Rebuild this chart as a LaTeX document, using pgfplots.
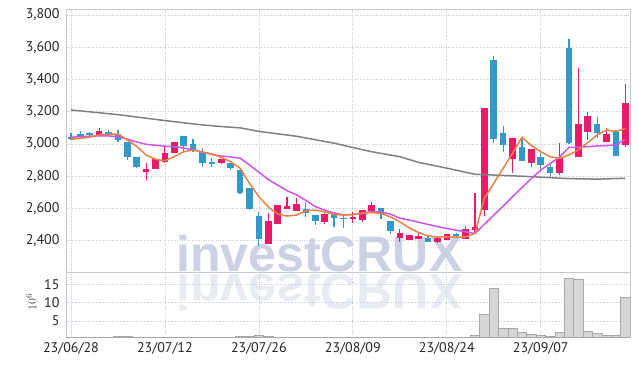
\documentclass[border=0pt]{standalone}
\usepackage{pgfplots}
\pgfplotsset{compat=1.18}
\usepackage{pgfplotstable}
\usepackage{fontspec}
\setmainfont{PT Sans}
\newfontfamily\wmfont{Liberation Sans}
\definecolor{cup}{RGB}{230,28,105}
\definecolor{cdn}{RGB}{51,152,202}
\definecolor{maone}{RGB}{238,128,70}
\definecolor{matwo}{RGB}{204,85,232}
\definecolor{mathree}{RGB}{128,128,128}
\definecolor{gridc}{RGB}{196,200,216}
\definecolor{framec}{RGB}{200,200,206}
\definecolor{wm}{RGB}{204,210,228}
\definecolor{wmr}{RGB}{233,235,243}
\definecolor{volf}{RGB}{214,214,214}
\definecolor{vole}{RGB}{168,168,168}

\pgfplotstableread{
i o h l c
0 3042 3065 3025 3038
1 3062 3078 3040 3052
2 3062 3075 3050 3060
3 3058 3097 3056 3080
4 3072 3087 3055 3068
5 3062 3085 3010 3022
6 3012 3015 2900 2922
7 2918 2920 2853 2855
8 2828 2880 2776 2842
9 2843 2905 2843 2905
10 2886 2983 2884 2945
11 2946 3012 2946 3010
12 3050 3052 2955 2990
13 3000 3030 2952 2955
14 2952 2972 2858 2880
15 2882 2912 2857 2880
16 2880 2908 2878 2906
17 2880 2882 2840 2850
18 2838 2840 2692 2697
19 2725 2726 2592 2594
20 2553 2580 2366 2412
21 2379 2569 2377 2523
22 2503 2621 2501 2619
23 2596 2673 2594 2614
24 2587 2663 2585 2626
25 2594 2641 2545 2570
26 2558 2560 2497 2523
27 2517 2570 2503 2565
28 2566 2568 2488 2540
29 2540 2568 2476 2537
30 2538 2580 2507 2546
31 2528 2592 2513 2590
32 2584 2641 2582 2620
33 2600 2602 2534 2563
34 2522 2524 2440 2460
35 2414 2472 2390 2445
36 2404 2436 2402 2434
37 2410 2446 2408 2430
38 2419 2430 2390 2392
39 2392 2422 2388 2419
40 2405 2442 2403 2440
41 2442 2445 2425 2428
42 2412 2490 2410 2470
43 2468 2694 2448 2482
44 2590 3224 2553 3222
45 3520 3547 3008 3030
46 3070 3112 2952 2995
47 2905 3036 2818 3035
48 2980 3030 2895 2897
49 2880 2970 2855 2967
50 2920 2942 2840 2870
51 2855 2880 2797 2823
52 2822 3008 2807 2921
53 3595 3651 3000 3005
54 2921 3470 2918 3122
55 3076 3201 3025 3174
56 3122 3170 3035 3066
57 3014 3097 3012 3060
58 3083 3085 2923 2925
59 2994 3373 2983 3257
}\ohlc

\pgfplotstableread{
i a b
0 3029 3042
1 3035 3045
2 3042 3048
3 3056 3050
4 3060 3050
5 3062 3045
6 3025 3030
7 2985 3012
8 2932 2998
9 2905 2992
10 2896 2986
11 2921 2983
12 2952 2975
13 2963 2963
14 2950 2950
15 2938 2935
16 2917 2925
17 2890 2920
18 2849 2912
19 2756 2870
20 2673 2825
21 2610 2780
22 2565 2745
23 2553 2710
24 2559 2685
25 2586 2650
26 2590 2612
27 2579 2590
28 2563 2572
29 2559 2560
30 2563 2562
31 2569 2572
32 2575 2580
33 2569 2578
34 2548 2565
35 2517 2540
36 2480 2528
37 2451 2515
38 2430 2501
39 2424 2488
40 2424 2476
41 2422 2465
42 2424 2455
43 2445 2445
44 2663 2502
45 2756 2559
46 2849 2615
47 2942 2673
48 3042 2730
49 2990 2786
50 2952 2838
51 2921 2879
52 2911 2919
53 2932 2979
54 2963 2980
55 3008 2983
56 3056 2988
57 3087 2990
58 3076 2994
59 3097 3030
}\ma

\pgfplotstableread{
i g
0 3211
5 3182
10 3145
14 3118
16 3108
18 3100
20 3078
24 3048
28 3005
30 2978
32 2952
35 2921
37 2886
40 2850
43 2812
48 2800
53 2785
56 2782
59 2787
}\malong

\pgfplotstableread{
i v
0 0.3
1 0.3
2 0.3
3 0.3
4 0.3
5 0.85
6 0.85
7 0.3
8 0.3
9 0.3
10 0.3
11 0.3
12 0.3
13 0.3
14 0.3
15 0.3
16 0.3
17 0.3
18 0.8
19 0.85
20 1.1
21 0.8
22 0.3
23 0.3
24 0.3
25 0.3
26 0.3
27 0.3
28 0.3
29 0.3
30 0.3
31 0.3
32 0.3
33 0.3
34 0.3
35 0.3
36 0.3
37 0.3
38 0.3
39 0.3
40 0.3
41 0.3
42 0.3
43 1.1
44 6.9
45 13.9
46 3.0
47 3.0
48 2.0
49 1.5
50 1.1
51 0.8
52 2.0
53 16.6
54 16.4
55 2.2
56 1.7
57 1.1
58 1.1
59 11.5
}\vol

\pgfplotsset{
  candle/.style 2 args={only marks, mark size=0pt, mark options={draw opacity=0, fill opacity=0},
    error bars/.cd, y dir=both, y explicit, error mark=none,
    error bar style={line width=#1, #2}, /pgfplots/.cd},
}

\begin{document}
\begin{tikzpicture}
\useasboundingbox (0,0) rectangle (639pt,366pt);
\node[anchor=base west, inner sep=0pt, text=wm, font=\wmfont\bfseries\fontsize{50}{50}\selectfont] at (176pt,94pt) {investCRUX};
\node[anchor=base west, inner sep=0pt, text=wmr, yscale=-1, font=\wmfont\bfseries\fontsize{50}{50}\selectfont] at (176pt,91pt) {investCRUX};

\begin{axis}[
  at={(66.7pt,94pt)}, anchor=south west, scale only axis,
  width=563.8pt, height=262.5pt,
  xmin=-0.45, xmax=59.55, ymin=2206, ymax=3834,
  xtick={0,10,20,30,40,50}, xticklabels={},
  ytick={2400,2600,2800,3000,3200,3400,3600,3800},
  grid=major, grid style={dotted, gridc, line width=0.7pt},
  axis line style={framec, line width=0.8pt},
  major tick length=0pt,
  yticklabel style={font=\fontsize{14}{14}\selectfont, text=black!85, inner sep=0pt, xshift=-7pt},
  /pgf/number format/1000 sep={,},
  /pgf/number format/assume math mode=true,
]
% wicks
\addplot[restrict expr to domain={\thisrow{c}-\thisrow{o}}{0:100000}, candle={1.2pt}{cup}]
  table[x=i, y expr={(\thisrow{h}+\thisrow{l})/2}, y error expr={(\thisrow{h}-\thisrow{l})/2}] {\ohlc};
\addplot[restrict expr to domain={\thisrow{c}-\thisrow{o}}{-100000:-0.001}, candle={1.2pt}{cdn}]
  table[x=i, y expr={(\thisrow{h}+\thisrow{l})/2}, y error expr={(\thisrow{h}-\thisrow{l})/2}] {\ohlc};
% bodies
\addplot[restrict expr to domain={\thisrow{c}-\thisrow{o}}{0:100000}, candle={6.6pt}{cup}]
  table[x=i, y expr={(\thisrow{o}+\thisrow{c})/2}, y error expr={max(abs(\thisrow{c}-\thisrow{o})/2,5)}] {\ohlc};
\addplot[restrict expr to domain={\thisrow{c}-\thisrow{o}}{-100000:-0.001}, candle={6.6pt}{cdn}]
  table[x=i, y expr={(\thisrow{o}+\thisrow{c})/2}, y error expr={max(abs(\thisrow{c}-\thisrow{o})/2,5)}] {\ohlc};
% moving averages
\addplot[mathree, line width=1.5pt, no markers] table[x=i, y=g] {\malong};
\addplot[matwo, line width=1.5pt, no markers] table[x=i, y=b] {\ma};
\addplot[maone, line width=1.5pt, no markers] table[x=i, y=a] {\ma};
\end{axis}

\begin{axis}[
  at={(66.7pt,28.7pt)}, anchor=south west, scale only axis,
  width=563.8pt, height=65.3pt,
  xmin=-0.45, xmax=59.55, ymin=0.57, ymax=18.37,
  xtick={0,10,20,30,40,50},
  xticklabels={23/06/28,23/07/12,23/07/26,23/08/09,23/08/24,23/09/07},
  ytick={5,10,15},
  grid=major, grid style={dotted, gridc, line width=0.7pt},
  axis line style={framec, line width=0.8pt},
  major tick length=0pt,
  yticklabel style={font=\fontsize{14}{14}\selectfont, text=black!85, inner sep=0pt, xshift=-7pt},
  xticklabel style={font=\fontsize{14}{14}\selectfont, text=black!85, inner sep=0pt, yshift=-5.5pt},
  /pgf/number format/assume math mode=true,
  ylabel={$10^6$},
  every axis y label/.style={at={(axis description cs:-0.063,0.54)}, rotate=90, anchor=center, font=\fontsize{13}{13}\selectfont, text=black!75},
]
\addplot[ybar, bar width=1, fill=volf, draw=vole, line width=0.6pt] table[x=i, y=v] {\vol};
\end{axis}
\end{tikzpicture}
\end{document}
